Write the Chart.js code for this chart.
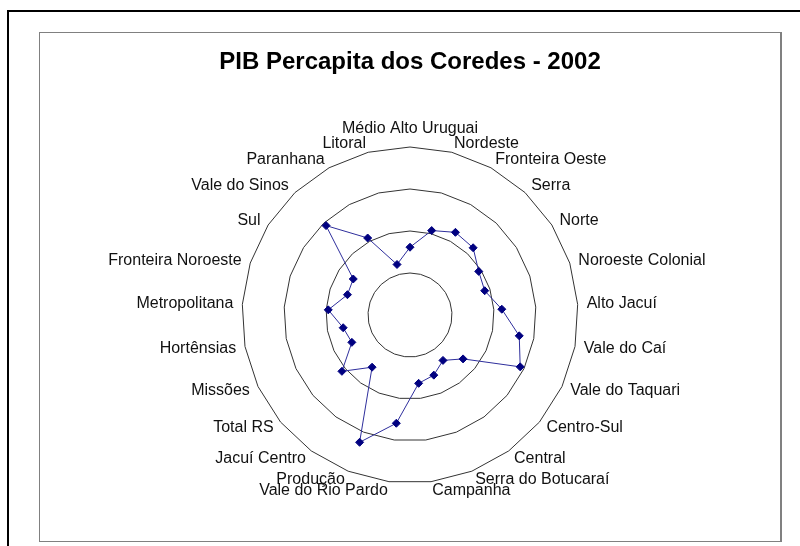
<!DOCTYPE html>
<html>
<head>
<meta charset="utf-8">
<script src="https://cdn.jsdelivr.net/npm/chart.js@4/dist/chart.umd.min.js"></script>
<style>
  body { margin: 0; background: #fff; }
  .wrap { position: relative; width: 800px; height: 546px; overflow: hidden; }
  .outer { position: absolute; left: 7px; top: 10px; width: 820px; height: 560px; border: 2px solid #000; }
  .inner { position: absolute; left: 39px; top: 32px; width: 740px; height: 508px; border: 1px solid #808080; border-right-width: 2px; }
  canvas { position: absolute; left: 0; top: 0; }
</style>
</head>
<body>
<div class="wrap">
  <div class="outer"></div>
  <div class="inner"></div>
  <canvas id="myChart" width="800" height="546"></canvas>
</div>
<script>
const categories = [
  "Médio Alto Uruguai", "Nordeste", "Fronteira Oeste", "Serra", "Norte",
  "Noroeste Colonial", "Alto Jacuí", "Vale do Caí", "Vale do Taquari", "Centro-Sul",
  "Central", "Serra do Botucaraí", "Campanha", "Vale do Rio Pardo", "Produção",
  "Jacuí Centro", "Total RS", "Missões", "Hortênsias", "Metropolitana",
  "Fronteira Noroeste", "Sul", "Vale do Sinos", "Paranhana", "Litoral"
];

// PIB per capita (R$)
const pibPercapita = [
  8070, 10380, 11230, 10980, 9690,
  9350, 10950, 13240, 14500, 8200,
  6680, 7700, 8200, 12990, 16300,
  7680, 10520, 7650, 8100, 9750,
  7830, 8000, 14600, 10460, 6210
];

const scaleMin = 0;
const scaleMax = 20000;
const scaleStep = 5000;

// center the labels vertically on their spoke, like Excel does
const centerLabels = (scale) => {
  const items = scale._pointLabelItems || [];
  items.forEach((item, i) => {
    const deg = Math.round((scale.getIndexAngle(i) * 180) / Math.PI) % 360;
    const half = (item.bottom - item.top) / 2;
    if (deg === 0 || deg === 180 || deg === 90 || deg === 270) return;
    const shift = deg < 90 || deg > 270 ? half : -half;
    item.y += shift;
    item.top += shift;
    item.bottom += shift;
  });
};

const ctx = document.getElementById("myChart").getContext("2d");

new Chart(ctx, {
  type: "radar",
  data: {
    labels: categories,
    datasets: [
      {
        label: "PIB Percapita",
        data: pibPercapita,
        borderColor: "#2e2e9c",
        borderWidth: 1,
        backgroundColor: "rgba(0,0,0,0)",
        fill: false,
        pointStyle: "rectRot",
        pointRadius: 4,
        pointBackgroundColor: "#000080",
        pointBorderColor: "#000080",
        pointBorderWidth: 1,
        tension: 0,
      },
    ],
  },
  options: {
    responsive: false,
    animation: false,
    layout: {
      padding: { left: 40, right: 20, top: 0, bottom: 34 },
    },
    plugins: {
      legend: { display: false },
      tooltip: { enabled: false },
      title: {
        display: true,
        text: "PIB Percapita dos Coredes - 2002",
        color: "#000",
        font: { family: "Arial, 'Liberation Sans'", size: 24, weight: "bold" },
        padding: { top: 48, bottom: 41 },
      },
    },
    scales: {
      r: {
        min: scaleMin,
        max: scaleMax,
        ticks: { stepSize: scaleStep, display: false },
        grid: { circular: false, color: "#333", lineWidth: 1 },
        angleLines: { display: false },
        pointLabels: {
          color: "#111",
          padding: 9,
          font: { family: "Arial, 'Liberation Sans'", size: 16 },
        },
        afterFit: centerLabels,
      },
    },
  },
});
</script>
</body>
</html>
